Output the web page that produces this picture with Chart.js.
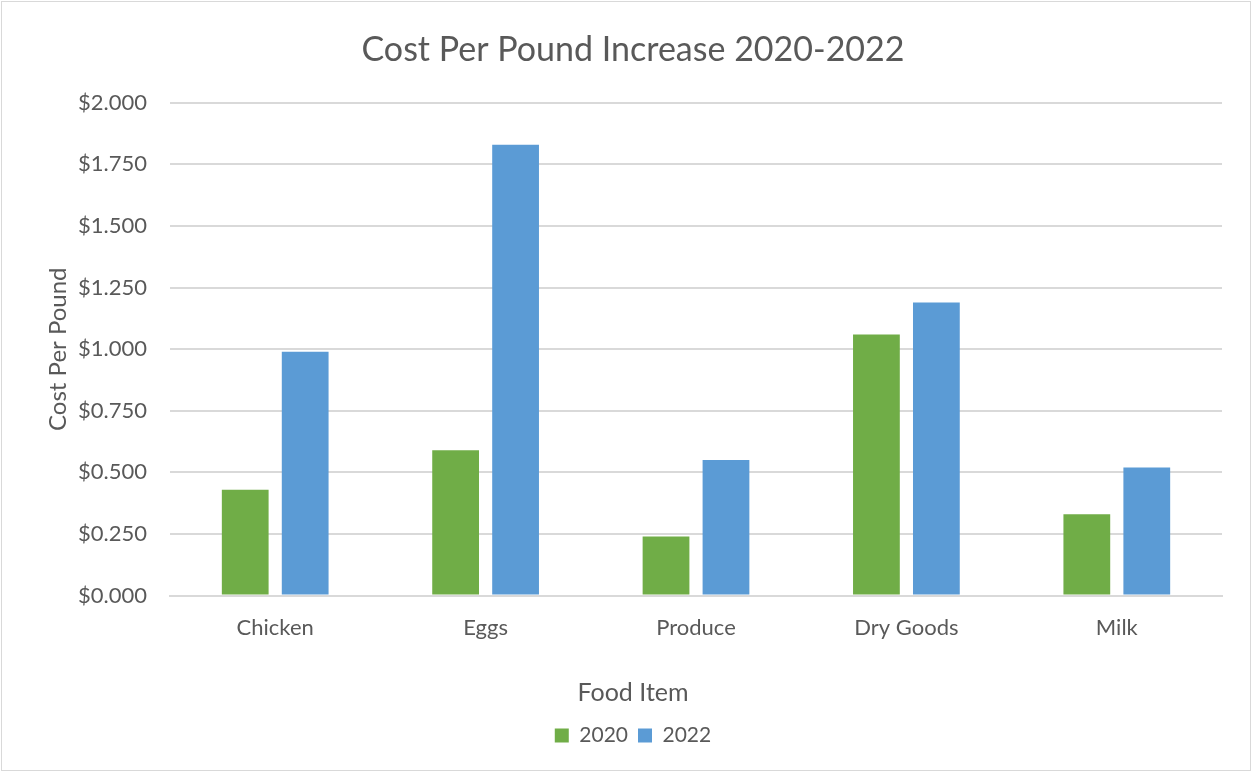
<!DOCTYPE html>
<html>
<head>
<meta charset="utf-8">
<script src="https://cdn.jsdelivr.net/npm/chart.js@4/dist/chart.umd.min.js"></script>
<style>
  html, body { margin: 0; padding: 0; background: #fff; }
  #wrap { position: relative; width: 1253px; height: 772px; }
</style>
</head>
<body>
<div id="wrap"><canvas id="c" width="1253" height="772"></canvas></div>
<script>
const categories = ['Chicken', 'Eggs', 'Produce', 'Dry Goods', 'Milk'];
const values2020 = [0.43, 0.59, 0.24, 1.06, 0.33];
const values2022 = [0.99, 1.83, 0.55, 1.19, 0.52];
const seriesLabels = ['2020', '2022'];
const chartTitle = 'Cost Per Pound Increase 2020-2022';
const xTitle = 'Food Item';
const yTitle = 'Cost Per Pound';

const FONT = 'Lato, "Open Sans", sans-serif';
const TXT = '#595959';
const GRID = '#d9d9d9';

const frame = {
  id: 'frame',
  beforeDraw(chart) {
    const ctx = chart.ctx;
    ctx.save();
    ctx.fillStyle = '#ffffff';
    ctx.fillRect(0, 0, chart.width, chart.height);
    ctx.strokeStyle = GRID;
    ctx.lineWidth = 1;
    ctx.strokeRect(1.5, 1.5, chart.width - 4, chart.height - 3);
    ctx.restore();
  }
};

new Chart(document.getElementById('c'), {
  type: 'bar',
  data: {
    labels: categories,
    datasets: [
      { label: seriesLabels[0], data: values2020, backgroundColor: '#70AD47' },
      { label: seriesLabels[1], data: values2022, backgroundColor: '#5B9BD5' }
    ]
  },
  options: {
    responsive: false,
    animation: false,
    devicePixelRatio: 1,
    categoryPercentage: 0.57,
    barPercentage: 0.78,
    layout: { padding: { left: 44, right: 31, top: 20, bottom: 16 } },
    plugins: {
      title: {
        display: true,
        text: chartTitle,
        color: TXT,
        font: { family: FONT, size: 34, weight: 'normal' },
        padding: { top: 10, bottom: 32 }
      },
      subtitle: {
        display: true,
        text: xTitle,
        position: 'bottom',
        weight: 500,
        color: TXT,
        font: { family: FONT, size: 25, weight: 'normal' },
        padding: { top: 18, bottom: 7 }
      },
      legend: {
        position: 'bottom',
        labels: {
          color: TXT,
          font: { family: FONT, size: 21 },
          boxWidth: 14,
          boxHeight: 14,
          padding: 10
        }
      },
      tooltip: { enabled: false }
    },
    scales: {
      x: {
        grid: { display: false, drawTicks: false },
        border: { color: GRID, width: 2 },
        ticks: { color: TXT, font: { family: FONT, size: 22 }, padding: 19 }
      },
      y: {
        min: 0, max: 2,
        grid: { color: GRID, lineWidth: 2, drawTicks: false },
        border: { display: false },
        ticks: {
          stepSize: 0.25, color: TXT, padding: 23,
          font: { family: FONT, size: 22 },
          callback: v => '$' + Number(v).toFixed(3)
        },
        title: {
          display: true, text: yTitle, color: TXT,
          font: { family: FONT, size: 24 }, padding: 0
        },
        afterFit(scale) { scale.width = 126; }
      }
    }
  },
  plugins: [frame]
});
</script>
</body>
</html>
